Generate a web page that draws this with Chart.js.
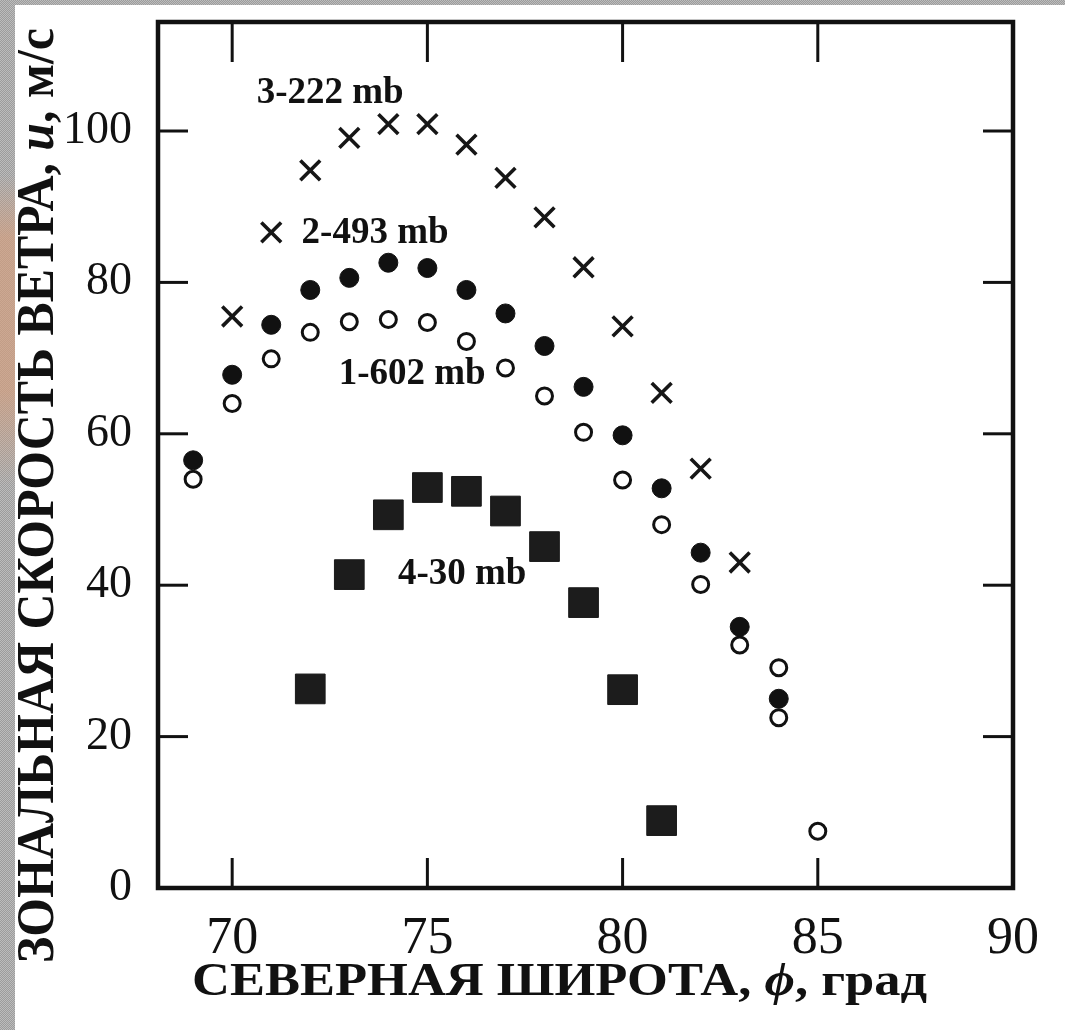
<!DOCTYPE html>
<html><head><meta charset="utf-8">
<script src="https://cdn.jsdelivr.net/npm/chart.js@4.4.1/dist/chart.umd.min.js"></script>
<style>
html,body{margin:0;padding:0;background:#fff;}
#wrap{position:relative;width:1065px;height:1030px;overflow:hidden;background:#fff;}
.strip{position:absolute;background:repeating-conic-gradient(#9c9c9c 0 25%, #bcbcbc 0 50%) 0 0/2px 2px;}
#left{left:0;top:0;width:15px;height:1030px;}
#top{left:0;top:0;width:1065px;height:5px;}
#peach{position:absolute;left:0;top:175px;width:15px;height:310px;background:linear-gradient(to bottom, rgba(214,158,124,0) 0%, rgba(214,158,124,0.65) 20%, rgba(214,158,124,0.65) 70%, rgba(214,158,124,0) 100%);}
canvas{position:absolute;left:0;top:0;}
</style></head><body>
<div id="wrap"><div class="strip" id="left"></div><div class="strip" id="top"></div><div id="peach"></div><canvas id="c" width="1065" height="1030"></canvas></div>
<script>
// ---- data (latitude, deg N ; zonal wind speed, m/s) ----
const lat222 = [70,71,72,73,74,75,76,77,78,79,80,81,82,83];
const u222   = [75.5,86.6,94.8,99.1,100.9,100.9,98.2,93.8,88.6,82.0,74.2,65.4,55.4,43.0];

const lat493 = [69,70,71,72,73,74,75,76,77,78,79,80,81,82,83,84];
const u493   = [56.5,67.8,74.4,79.0,80.6,82.6,81.9,79.0,75.9,71.6,66.2,59.8,52.8,44.3,34.5,25.0];

const lat602 = [69,70,71,72,73,74,75,76,77,78,79,80,81,82,83,84,84,85];
const u602   = [54.0,64.0,69.9,73.4,74.8,75.1,74.7,72.2,68.7,65.0,60.2,53.9,48.0,40.1,32.1,29.1,22.5,7.5];

const lat30  = [72,73,74,75,76,77,78,79,80,81];
const u30    = [26.3,41.4,49.3,52.9,52.4,49.8,45.1,37.7,26.2,8.9];

const xTicks = [70,75,80,85,90];
const yTicks = [0,20,40,60,80,100];

const seriesNames = ['3-222 mb','2-493 mb','1-602 mb','4-30 mb'];
const noteLat = [72.51,73.66,74.61,75.89];
const noteU   = [103.7,85.2,66.6,40.1];

const xTitle = ['СЕВЕРНАЯ ШИРОТА, ', 'ϕ', ', град'];
const yTitle = ['ЗОНАЛЬНАЯ СКОРОСТЬ ВЕТРА, ', 'u', ', м/с'];

function pts(xs, ys){ return xs.map((v,i)=>({x:v, y:ys[i]})); }

const SERIF = '"Liberation Serif","Times New Roman",serif';

function drawFitted(ctx, parts, fonts, x, y, targetW, rot){
  let total = 0;
  const ws = parts.map((t,i)=>{ ctx.font = fonts[i]; const w = ctx.measureText(t).width; total += w; return w; });
  const sx = targetW/total;
  ctx.save();
  ctx.translate(x,y);
  if (rot) ctx.rotate(rot);
  ctx.scale(sx,1);
  ctx.textAlign='left'; ctx.textBaseline='alphabetic'; ctx.fillStyle='#111';
  let cx = 0;
  parts.forEach((t,i)=>{ ctx.font = fonts[i]; ctx.fillText(t, cx, 0); cx += ws[i]; });
  ctx.restore();
}

const framePlugin = {
  id:'frame',
  afterDraw(chart){
    const {ctx, chartArea:{left,top,right,bottom}, scales:{x,y}} = chart;
    ctx.save();
    ctx.strokeStyle='#111';
    ctx.lineWidth=3;
    ctx.lineCap='butt';
    xTicks.forEach(v=>{
      if (v >= x.max || v <= x.min) return;
      const px = x.getPixelForValue(v);
      ctx.beginPath(); ctx.moveTo(px,bottom); ctx.lineTo(px,bottom-30); ctx.stroke();
      ctx.beginPath(); ctx.moveTo(px,top); ctx.lineTo(px,top+40); ctx.stroke();
    });
    yTicks.forEach(v=>{
      if (v <= y.min || v >= y.max) return;
      const py = y.getPixelForValue(v);
      ctx.beginPath(); ctx.moveTo(left,py); ctx.lineTo(left+30,py); ctx.stroke();
      ctx.beginPath(); ctx.moveTo(right,py); ctx.lineTo(right-30,py); ctx.stroke();
    });
    ctx.lineWidth=4.5;
    ctx.strokeRect(left,top,right-left,bottom-top);

    // series annotations
    ctx.fillStyle='#111';
    ctx.font='bold 37px '+SERIF;
    ctx.textAlign='center'; ctx.textBaseline='alphabetic';
    seriesNames.forEach((t,i)=>{
      ctx.fillText(t, x.getPixelForValue(noteLat[i]), y.getPixelForValue(noteU[i]));
    });

    // axis titles
    drawFitted(ctx, xTitle, ['bold 46px '+SERIF,'bold italic 46px '+SERIF,'bold 46px '+SERIF], 192, 995, 735, 0);
    drawFitted(ctx, yTitle, ['bold 52px '+SERIF,'bold italic 52px '+SERIF,'bold 52px '+SERIF], 53, 963, 935, -Math.PI/2);
    ctx.restore();
  }
};

new Chart(document.getElementById('c'), {
  type:'scatter',
  data:{ datasets:[
    {label:seriesNames[0], data:pts(lat222,u222), pointStyle:'crossRot', pointRadius:14, pointBorderWidth:3.6, borderColor:'#161616', backgroundColor:'#161616'},
    {label:seriesNames[1], data:pts(lat493,u493), pointStyle:'circle', pointRadius:9.5, pointBorderWidth:1, borderColor:'#111', backgroundColor:'#111'},
    {label:seriesNames[2], data:pts(lat602,u602), pointStyle:'circle', pointRadius:8, pointBorderWidth:3, borderColor:'#111', backgroundColor:'#fff'},
    {label:seriesNames[3], data:pts(lat30,u30), pointStyle:'rect', pointRadius:21, pointBorderWidth:1, borderColor:'#1a1a1a', backgroundColor:'#1c1c1c'}
  ]},
  options:{
    responsive:false, animation:false, devicePixelRatio:1,
    layout:{padding:{top:15,right:52,left:0,bottom:0}},
    plugins:{legend:{display:false}, tooltip:{enabled:false}},
    scales:{
      x:{type:'linear', min:68.1, max:90,
        afterBuildTicks:s=>{ s.ticks = xTicks.map(v=>({value:v})); },
        afterFit:s=>{ s.height = 142; s.paddingLeft = 0; s.paddingRight = 0; },
        grid:{display:false}, border:{display:false},
        ticks:{font:{family:SERIF, size:52}, color:'#111', padding:12, maxRotation:0, autoSkip:false}},
      y:{type:'linear', min:0, max:114.4,
        afterBuildTicks:s=>{ s.ticks = yTicks.map(v=>({value:v})); },
        afterFit:s=>{ s.width = 158; s.paddingTop = 0; s.paddingBottom = 0; },
        grid:{display:false}, border:{display:false},
        ticks:{font:{family:SERIF, size:46}, color:'#111', padding:18, autoSkip:false}}
    }
  },
  plugins:[framePlugin]
});
</script>
</body></html>
